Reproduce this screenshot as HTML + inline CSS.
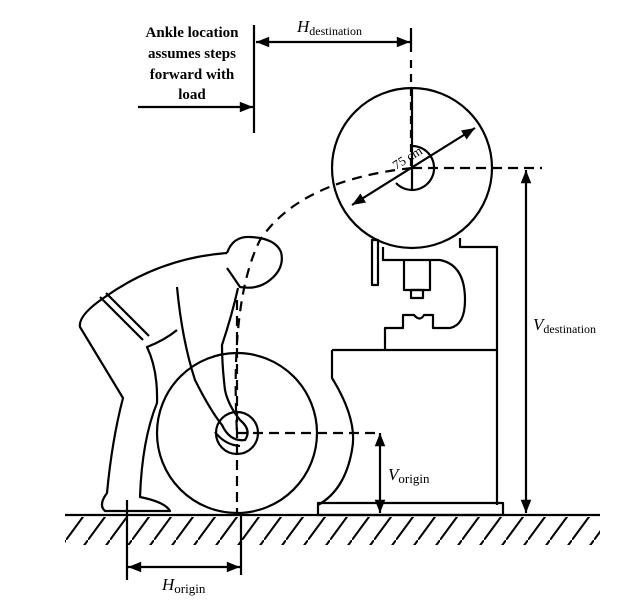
<!DOCTYPE html>
<html><head><style>
html,body{margin:0;padding:0;background:#fff;}
svg{display:block;}
text{font-family:"Liberation Serif",serif;fill:#000;}
</style></head><body>
<svg width="639" height="605" viewBox="0 0 639 605" xmlns="http://www.w3.org/2000/svg">
<defs>
<marker id="a" viewBox="0 0 10 10" refX="10" refY="5" markerWidth="8" markerHeight="6" orient="auto-start-reverse"><path d="M0,1 L10,5 L0,9 z" fill="#000"/></marker>
<pattern id="h" width="22" height="30" patternUnits="userSpaceOnUse"><path d="M0,30 L22,0" stroke="#000" stroke-width="2"/></pattern>
</defs>
<g font-weight="bold" font-size="15" text-anchor="middle">
<text x="192" y="37">Ankle location</text>
<text x="192" y="58">assumes steps</text>
<text x="192" y="79">forward with</text>
<text x="192" y="99">load</text>
</g>
<g stroke="#000" stroke-width="2.2" fill="none" stroke-linejoin="round">
<line x1="254" y1="25" x2="254" y2="133"/>
<line x1="138" y1="107" x2="253" y2="107" marker-end="url(#a)"/>
<line x1="256" y1="42" x2="410" y2="42" marker-start="url(#a)" marker-end="url(#a)"/>
<line x1="411" y1="28" x2="411" y2="52"/>
<line x1="411" y1="60" x2="411" y2="168" stroke-dasharray="8,6"/>
<!-- ground -->
<line x1="65" y1="515" x2="600" y2="515"/>
<rect x="65" y="517" width="535" height="28" fill="url(#h)" stroke="none"/>
<!-- top wheel -->
<circle cx="412" cy="168" r="80"/>
<path d="M412,146 A22,22 0 1 1 396,183" />
<line x1="412" y1="88" x2="412" y2="190"/>
<line x1="352" y1="205" x2="475" y2="128" marker-start="url(#a)" marker-end="url(#a)"/>
<line x1="412" y1="168" x2="542" y2="168" stroke-dasharray="10,6"/>
<path d="M412,168 Q300,180 260,240 Q230,300 237,433" stroke-dasharray="10,7"/>
<!-- V destination -->
<line x1="526" y1="170" x2="526" y2="513" marker-start="url(#a)" marker-end="url(#a)"/>
<!-- machine -->
<path d="M460,238 L460,247 L497,247 L497,505"/>
<path d="M383,247 L383,260 L440,260 Q465,265 465,300 Q465,325 450,328 L433,328 L433,315 L424,315 Q420,322 414,315 L403,315 L403,328 L385,328 L385,350"/>
<path d="M404,260 L404,290 L430,290 L430,260"/>
<rect x="411" y="290" width="12" height="8"/>
<rect x="372" y="240" width="6" height="45"/>
<path d="M332,350 L497,350 M332,350 L332,378 Q358,420 352,450 Q345,490 318,505"/>
<rect x="318" y="503" width="185" height="12"/>
<!-- lower wheel -->
<circle cx="237" cy="433" r="80"/>
<circle cx="237" cy="433" r="21"/>
<line x1="237" y1="300" x2="237" y2="515" stroke-dasharray="10,6"/>
<line x1="237" y1="433" x2="380" y2="433" stroke-dasharray="10,6"/>
<line x1="380" y1="433" x2="380" y2="513" marker-start="url(#a)" marker-end="url(#a)"/>
<!-- H origin -->
<line x1="127" y1="500" x2="127" y2="580"/>
<line x1="241" y1="515" x2="241" y2="575"/>
<line x1="128" y1="567" x2="240" y2="567" marker-start="url(#a)" marker-end="url(#a)"/>
<!-- person -->
<path d="M227,253 Q233,236 250,237 Q275,238 281,252 Q285,268 270,280 Q258,290 240,287 Q234,278 227,268"/>
<path d="M227,253 Q160,258 105,297 Q78,315 80,327 Q100,360 123,398 Q112,440 107,493 Q98,505 105,511 L170,511 Q165,502 140,497 Q142,440 157,403 Q158,370 147,347 Q165,340 177,330"/>
<path d="M100,297 L143,340 M106,293 L149,336"/>
<path d="M177,287 Q182,340 195,380 Q210,410 222,425 Q230,442 245,440 Q252,430 240,420 Q228,405 225,390 Q222,365 222,345 Q232,315 238,288"/>
<path d="M215,432 Q225,445 240,446"/>
</g>
<g font-style="italic" font-size="17">
<text x="297" y="32">H<tspan font-style="normal" font-size="12" dy="3">destination</tspan></text>
<text x="533" y="330">V<tspan font-style="normal" font-size="12" dy="3">destination</tspan></text>
<text x="388" y="480">V<tspan font-style="normal" font-size="13" dy="3">origin</tspan></text>
<text x="162" y="590">H<tspan font-style="normal" font-size="13" dy="3">origin</tspan></text>
</g>
<text x="0" y="0" font-size="13" transform="translate(396,170) rotate(-32)">75 cm</text>
</svg>
</body></html>
